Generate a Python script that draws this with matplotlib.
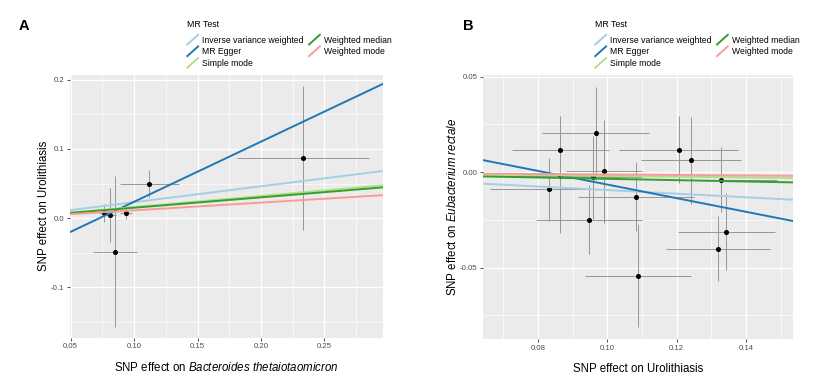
import numpy as np
import matplotlib
matplotlib.use("Agg")
import matplotlib.pyplot as plt
from matplotlib.lines import Line2D
from matplotlib.legend_handler import HandlerLine2D
from matplotlib.ticker import MultipleLocator

plt.rcParams["font.family"] = ["Liberation Sans", "DejaVu Sans"]
plt.rcParams["mathtext.fontset"] = "custom"
plt.rcParams["mathtext.rm"] = "Liberation Sans"
plt.rcParams["mathtext.it"] = "Liberation Sans:italic"

# MR methods and ggplot (TwoSampleMR) colours
methods = ["Inverse variance weighted", "MR Egger", "Simple mode",
           "Weighted median", "Weighted mode"]
method_colors = ["#a6cee3", "#1f78b4", "#b2df8a", "#33a02c", "#fb9a99"]

# Panel A: Bacteroides thetaiotaomicron -> Urolithiasis
a_x = [0.0760, 0.0814, 0.0850, 0.0937, 0.1120, 0.2330]
a_y = [0.0070, 0.0043, -0.0486, 0.0077, 0.0500, 0.0870]
a_xerr = [0.0040, 0.0045, 0.0176, 0.0050, 0.0230, 0.0517]
a_yerr = [0.0130, 0.0395, 0.1090, 0.0095, 0.0190, 0.1035]
a_slopes = [0.230, 0.869, 0.160, 0.150, 0.112]
a_intercepts = [0.0, -0.0633, 0.0, 0.0, 0.0]

# Panel B: Urolithiasis -> Eubacterium rectale
b_x = [0.0832, 0.0865, 0.0865, 0.0947, 0.0960, 0.0966, 0.0990,
       0.1082, 0.1089, 0.1205, 0.1240, 0.1319, 0.1328, 0.1343]
b_y = [-0.0089, 0.0116, -0.0020, -0.0249, -0.0028, 0.0203, 0.0004,
       -0.0129, -0.0542, 0.0118, 0.0061, -0.0400, -0.0040, -0.0311]
b_xerr = [0.0170, 0.0141, 0.0150, 0.0153, 0.0140, 0.0155, 0.0110,
          0.0167, 0.0153, 0.0170, 0.0144, 0.0150, 0.0160, 0.0140]
b_yerr = [0.0165, 0.0178, 0.0300, 0.0180, 0.0217, 0.0245, 0.0270,
          0.0180, 0.0270, 0.0175, 0.0230, 0.0170, 0.0170, 0.0200]
b_slopes = [-0.094, -0.357, -0.020, -0.035, -0.0125]
b_intercepts = [0.0, 0.0292, 0.0, 0.0, 0.0]


class HandlerDiag(HandlerLine2D):
    """ggplot-style abline legend key: a diagonal stroke."""

    def create_artists(self, legend, orig_handle, xdescent, ydescent,
                       width, height, fontsize, trans):
        line = Line2D([-xdescent, -xdescent + width],
                      [-ydescent, height - ydescent])
        self.update_prop(line, orig_handle, legend)
        line.set_transform(trans)
        return [line]


def style_ggplot(ax):
    ax.set_facecolor("#EBEBEB")
    for s in ax.spines.values():
        s.set_visible(False)
    ax.grid(which="major", color="white", linewidth=0.9)
    ax.grid(which="minor", color="white", linewidth=0.45)
    ax.set_axisbelow(True)
    ax.tick_params(which="major", length=2.5, width=0.6, color="#333333",
                   labelsize=5.6, labelcolor="#4D4D4D", pad=1.5)
    ax.tick_params(which="minor", length=0)


def mr_panel(ax, x, y, xerr, yerr, slopes, intercepts):
    ax.errorbar(x, y, xerr=xerr, fmt="none", ecolor="#969696",
                elinewidth=0.7, capsize=0, zorder=2)
    ax.errorbar(x, y, yerr=yerr, fmt="none", ecolor="#969696",
                elinewidth=0.7, capsize=0, zorder=2)
    ax.scatter(x, y, s=7, color="black", zorder=3)
    for name, col, b, a in zip(methods, method_colors, slopes, intercepts):
        ax.axline((0, a), slope=b, color=col, linewidth=1.4, label=name,
                  zorder=4)


def add_legend(ax, fig, anchor):
    handles = [Line2D([], [], color=c, linewidth=1.4) for c in method_colors]
    leg = ax.legend(handles, methods, title="MR Test", ncol=2,
                    loc="upper left", bbox_to_anchor=anchor,
                    bbox_transform=fig.transFigure, frameon=False,
                    fontsize=6.2, title_fontsize=6.3, alignment="left",
                    handlelength=1.25, handleheight=1.35, handletextpad=0.5,
                    labelspacing=0.22, columnspacing=0.6, borderpad=0,
                    handler_map={Line2D: HandlerDiag()})
    leg._legend_box.sep = 4
    return leg


fig = plt.figure(figsize=(8.3, 3.8), dpi=100)

ax_a = fig.add_axes([0.0843, 0.111, 0.377, 0.692])
style_ggplot(ax_a)
mr_panel(ax_a, a_x, a_y, a_xerr, a_yerr, a_slopes, a_intercepts)
ax_a.set_xlim(0.0495, 0.296)
ax_a.set_ylim(-0.173, 0.207)
ax_a.xaxis.set_major_locator(MultipleLocator(0.05))
ax_a.xaxis.set_minor_locator(MultipleLocator(0.025))
ax_a.yaxis.set_major_locator(MultipleLocator(0.1))
ax_a.yaxis.set_minor_locator(MultipleLocator(0.05))
ax_a.xaxis.set_major_formatter(lambda v, p: f"{v:.2f}")
ax_a.yaxis.set_major_formatter(lambda v, p: f"{v:.1f}")
ax_a.set_xlabel(r"SNP effect on $\it{Bacteroides\ thetaiotaomicron}$",
                fontsize=8.3, labelpad=8)
ax_a.set_ylabel("SNP effect on Urolithiasis", fontsize=8.3, labelpad=1)
add_legend(ax_a, fig, (0.2205, 0.958))

ax_b = fig.add_axes([0.582, 0.108, 0.3735, 0.695])
style_ggplot(ax_b)
mr_panel(ax_b, b_x, b_y, b_xerr, b_yerr, b_slopes, b_intercepts)
ax_b.set_xlim(0.0642, 0.1535)
ax_b.set_ylim(-0.0873, 0.0509)
ax_b.xaxis.set_major_locator(MultipleLocator(0.02))
ax_b.xaxis.set_minor_locator(MultipleLocator(0.01))
ax_b.yaxis.set_major_locator(MultipleLocator(0.05))
ax_b.yaxis.set_minor_locator(MultipleLocator(0.025))
ax_b.xaxis.set_major_formatter(lambda v, p: f"{v:.2f}")
ax_b.yaxis.set_major_formatter(lambda v, p: f"{v:.2f}")
ax_b.set_xlabel("SNP effect on Urolithiasis", fontsize=8.3, labelpad=8)
ax_b.set_ylabel(r"SNP effect on $\it{Eubacterium\ rectale}$",
                fontsize=8.3, labelpad=1)
add_legend(ax_b, fig, (0.712, 0.958))

fig.text(0.023, 0.921, "A", fontsize=10.5, fontweight="bold")
fig.text(0.558, 0.921, "B", fontsize=10.5, fontweight="bold")

fig.savefig("out.png", dpi=100)
